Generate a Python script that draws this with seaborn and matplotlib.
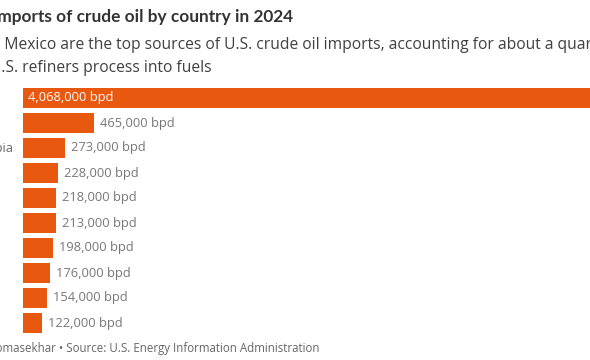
import matplotlib
matplotlib.use('Agg')
import matplotlib.pyplot as plt
import matplotlib.transforms as mtransforms
import seaborn as sns
import pandas as pd

# data (2024, barrels per day)
countries = ["Canada", "Mexico", "Saudi Arabia", "Venezuela", "Brazil",
             "Iraq", "Colombia", "Ecuador", "Nigeria", "Guyana"]
barrels = [4068000, 465000, 273000, 228000, 218000,
           213000, 198000, 176000, 154000, 122000]
value_labels = [f"{v:,} bpd" for v in barrels]

title = "U.S. imports of crude oil by country in 2024"
subtitle_1 = "Canada and Mexico are the top sources of U.S. crude oil imports, accounting for about a quarter of the oil"
subtitle_2 = "U.S. refiners process into fuels"
footer = "Graphic by Arathy Somasekhar \u2022 Source: U.S. Energy Information Administration"

orange = '#e8590f'
W, H = 590, 360

sns.set_theme(style='white')
plt.rcParams['font.family'] = ['Open Sans', 'DejaVu Sans']

fig = plt.figure(figsize=(W / 100, H / 100), dpi=100)
renderer = fig.canvas.get_renderer()


def text_width(s, size, weight='normal'):
    t = fig.text(0, 0, s, fontsize=size, fontweight=weight)
    w = t.get_window_extent(renderer).width
    t.remove()
    return w


def fy(px):
    return 1 - px / H


ax = fig.add_axes([23 / W, fy(335.5), 567 / W, 250 / H])
df = pd.DataFrame({'country': countries, 'bpd': barrels})
sns.barplot(data=df, x='bpd', y='country', orient='h', color=orange,
            saturation=1, width=0.8, linewidth=0, ax=ax)
ax.set_xlim(0, 567 / 71 * 465000)
ax.set_ylim(len(countries) - 0.5, -0.5)
ax.set_axis_off()

# value labels
for i, (v, lab) in enumerate(zip(barrels, value_labels)):
    if i == 0:
        tr = mtransforms.offset_copy(ax.transData, fig=fig, x=5, y=0, units='dots')
        ax.text(0, i, lab, transform=tr, ha='left', va='center',
                fontsize=9.3, color='white')
    else:
        tr = mtransforms.offset_copy(ax.transData, fig=fig, x=6, y=0, units='dots')
        ax.text(v, i, lab, transform=tr, ha='left', va='center',
                fontsize=9.3, color='#777777')

# country labels, left aligned (mostly cut off by the frame)
lab_x = 13 - text_width("Saudi Arabia", 9.3)
blend = mtransforms.blended_transform_factory(fig.transFigure, ax.transData)
for i, c in enumerate(countries):
    ax.text(lab_x / W, i, c, transform=blend, ha='left', va='center',
            fontsize=9.3, color='#666666', clip_on=False)

# header
fig.text(293 / W, fy(22), title, ha='right', va='baseline', family=['Lato', 'DejaVu Sans'],
         fontsize=12.4, fontweight='bold', color='#333333')
lead = text_width("Canada and Mexico", 11.25) - text_width("Mexico", 11.25)
fig.text((4 - lead) / W, fy(49), subtitle_1, ha='left', va='baseline',
         fontsize=11.25, color='#404040')
fig.text(212 / W, fy(72), subtitle_2, ha='right', va='baseline',
         fontsize=11.25, color='#404040')

# footer
fig.text(320 / W, fy(352), footer, ha='right', va='baseline',
         fontsize=8.3, color='#666666')

fig.savefig('out.png', dpi=100)
